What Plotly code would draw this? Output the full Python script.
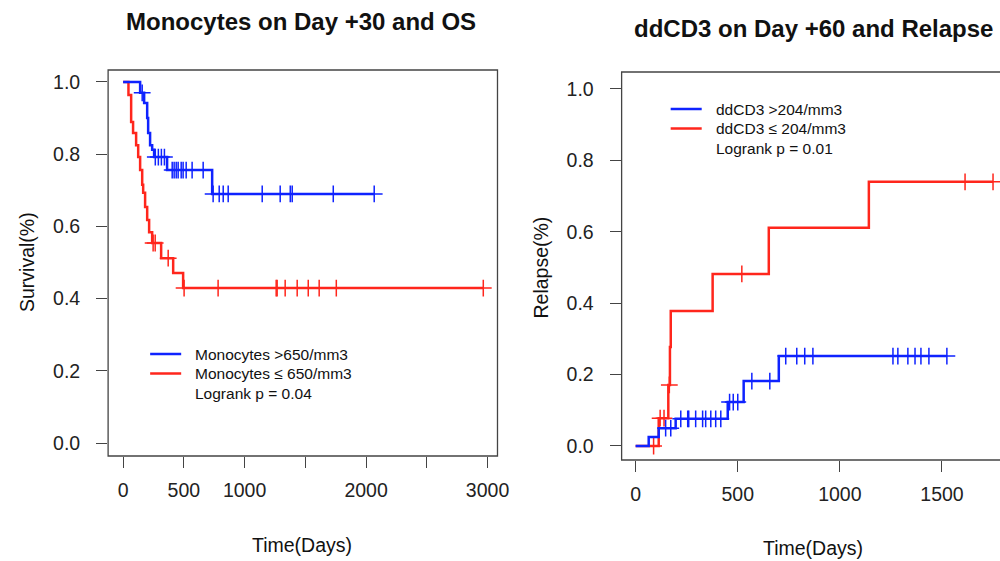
import numpy as np
import plotly.graph_objects as go

# ---------------- data: left panel (overall survival) ----------------
mono_hi_times = [0, 140, 173, 198, 206, 222, 239, 255, 362, 733]
mono_hi_surv = [1.0, 0.970, 0.942, 0.900, 0.859, 0.825, 0.812, 0.792, 0.756, 0.690]
mono_hi_censor = [157, 265, 290, 315, 340, 404, 420, 437, 453, 478, 494, 519, 568, 659,
                  741, 791, 824, 865, 1145, 1293, 1376, 1392, 1730, 2067]

mono_lo_times = [0, 44, 66, 82, 107, 124, 140, 157, 165, 181, 198, 214, 239, 313, 412, 494]
mono_lo_surv = [1.0, 0.964, 0.889, 0.859, 0.825, 0.792, 0.756, 0.715, 0.693, 0.654,
                0.618, 0.584, 0.554, 0.512, 0.471, 0.429]
mono_lo_censor = [247, 264, 371, 502, 782, 1260, 1268, 1334, 1433, 1524, 1614, 1755, 2965]

# ---------------- data: right panel (cumulative relapse) ----------------
cd3_hi_times = [0, 64, 113, 196, 451, 529, 701]
cd3_hi_rel = [0.0, 0.025, 0.050, 0.076, 0.123, 0.182, 0.252]
cd3_hi_censor = [147, 172, 221, 255, 260, 294, 328, 343, 368, 392, 417, 460, 478, 500,
                 569, 657, 735, 789, 828, 868, 1260, 1284, 1333, 1368, 1397, 1436, 1524]

cd3_lo_times = [0, 113, 160, 168, 172, 377, 652, 1142]
cd3_lo_rel = [0.0, 0.078, 0.171, 0.277, 0.378, 0.482, 0.611, 0.740]
cd3_lo_censor = [88, 120, 139, 165, 520, 1613, 1750]

x_ticks_left = [0, 500, 1000, 1500, 2000, 2500, 3000]
x_ticktext_left = ["0", "500", "1000", "", "2000", "", "3000"]
x_ticks_right = [0, 500, 1000, 1500]
y_ticks = [0.0, 0.2, 0.4, 0.6, 0.8, 1.0]

BLUE = "rgb(15,35,255)"
RED = "rgb(255,38,28)"
FONT = "Liberation Sans, Arial, sans-serif"
AXC = "#444444"
PAGE_W = 1013  # rendered page is shown ~0.987x horizontally; 1013 * 0.987 ~ 1000


def step_at(times, vals, t):
    idx = np.searchsorted(np.asarray(times), np.asarray(t), side="right") - 1
    return list(np.asarray(vals)[idx])


def add_curve(fig, times, vals, censor, color, xa, ya):
    end = max(censor[-1], times[-1])
    xs = list(times) + [end]
    ys = list(vals) + [vals[-1]]
    fig.add_trace(go.Scatter(x=xs, y=ys, mode="lines", line=dict(color=color, width=2.5, shape="hv"),
                             xaxis=xa, yaxis=ya, showlegend=False, hoverinfo="skip", cliponaxis=False))
    fig.add_trace(go.Scatter(x=censor, y=step_at(times, vals, censor), mode="markers",
                             marker=dict(symbol="cross-thin", size=12, line=dict(color=color, width=1.5)),
                             xaxis=xa, yaxis=ya, showlegend=False, hoverinfo="skip", cliponaxis=False))


fig = go.Figure()
add_curve(fig, mono_lo_times, mono_lo_surv, mono_lo_censor, RED, "x", "y")
add_curve(fig, mono_hi_times, mono_hi_surv, mono_hi_censor, BLUE, "x", "y")
add_curve(fig, cd3_lo_times, cd3_lo_rel, cd3_lo_censor, RED, "x2", "y2")
add_curve(fig, cd3_hi_times, cd3_hi_rel, cd3_hi_censor, BLUE, "x2", "y2")

axis_common = dict(showgrid=False, zeroline=False, showline=False, ticks="outside", ticklen=11,
                   tickwidth=1.2, tickcolor=AXC, tickfont=dict(family=FONT, size=19.5, color="#222"))

fig.update_layout(
    width=PAGE_W, height=561, margin=dict(l=0, r=0, t=0, b=0),
    paper_bgcolor="white", plot_bgcolor="white",
    xaxis=dict(domain=[0.108, 0.497], range=[-123.6, 3082], tickvals=x_ticks_left,
               ticktext=x_ticktext_left, anchor="y", ticklabelstandoff=6, **axis_common),
    yaxis=dict(domain=[0.18717, 0.87522], range=[-0.036, 1.0332], tickvals=y_ticks,
               ticktext=[f"{v:.1f}" for v in y_ticks], anchor="x", ticklabelstandoff=12, **axis_common),
    xaxis2=dict(domain=[0.621, 1.0], range=[-68.6, 1789], tickvals=x_ticks_right,
                ticktext=[str(v) for v in x_ticks_right], anchor="y2", ticklabelstandoff=6, **axis_common),
    yaxis2=dict(domain=[0.18004, 0.87166], range=[-0.0392, 1.0476], tickvals=y_ticks,
                ticktext=[f"{v:.1f}" for v in y_ticks], anchor="x2", ticklabelstandoff=12, **axis_common),
)

# plot boxes (right panel is open at the cut-off right edge)
fig.add_shape(type="rect", xref="x domain", yref="y domain", x0=0, x1=1, y0=0, y1=1,
              line=dict(color=AXC, width=1.3), layer="below")
fig.add_shape(type="path", xref="x2 domain", yref="y2 domain", path="M 1.01,1 L 0,1 L 0,0 L 1.01,0",
              line=dict(color=AXC, width=1.3), layer="below")


def px(xp, yp):
    return xp / 1000.0, 1 - yp / 561.0


def text(xp, yp, s, size, bold=False, angle=0, xanchor="center"):
    x, y = px(xp, yp)
    fig.add_annotation(x=x, y=y, xref="paper", yref="paper", text=f"<b>{s}</b>" if bold else s,
                       showarrow=False, xanchor=xanchor, yanchor="middle", textangle=angle,
                       font=dict(family=FONT, size=size, color="#111"))


# titles
text(301, 21, "Monocytes on Day +30 and OS", 24, bold=True)
text(813, 28, "ddCD3 on Day +60 and Relapse", 24, bold=True)
# axis titles
text(302, 545, "Time(Days)", 19.5)
text(812, 548, "Time(Days)", 19.5)
text(27, 262, "Survival(%)", 19.5, angle=-90)
text(540, 268, "Relapse(%)", 19.5, angle=-90)


def legend(x_line, y_first, labels, ptext):
    for i, (lab, col) in enumerate(labels):
        yy = y_first + 19.5 * i
        x0, y0 = px(x_line, yy)
        x1, _ = px(x_line + 31, yy)
        fig.add_shape(type="line", xref="paper", yref="paper", x0=x0, x1=x1, y0=y0, y1=y0,
                      line=dict(color=col, width=2.5))
        text(x_line + 43, yy, lab, 15.5, xanchor="left")
    text(x_line + 43, y_first + 39, ptext, 15.5, xanchor="left")


legend(150, 354, [("Monocytes >650/mm3", BLUE), ("Monocytes ≤ 650/mm3", RED)], "Logrank p = 0.04")
legend(670, 109, [("ddCD3 >204/mm3", BLUE), ("ddCD3 ≤ 204/mm3", RED)], "Logrank p = 0.01")

fig.write_html("out.html", config={"displayModeBar": False})
with open("out.html", "r", encoding="utf-8") as f:
    html = f.read()
html = html.replace("<head>", "<head><style>html,body{margin:0;padding:0;overflow:hidden;}</style>", 1)
with open("out.html", "w", encoding="utf-8") as f:
    f.write(html)
